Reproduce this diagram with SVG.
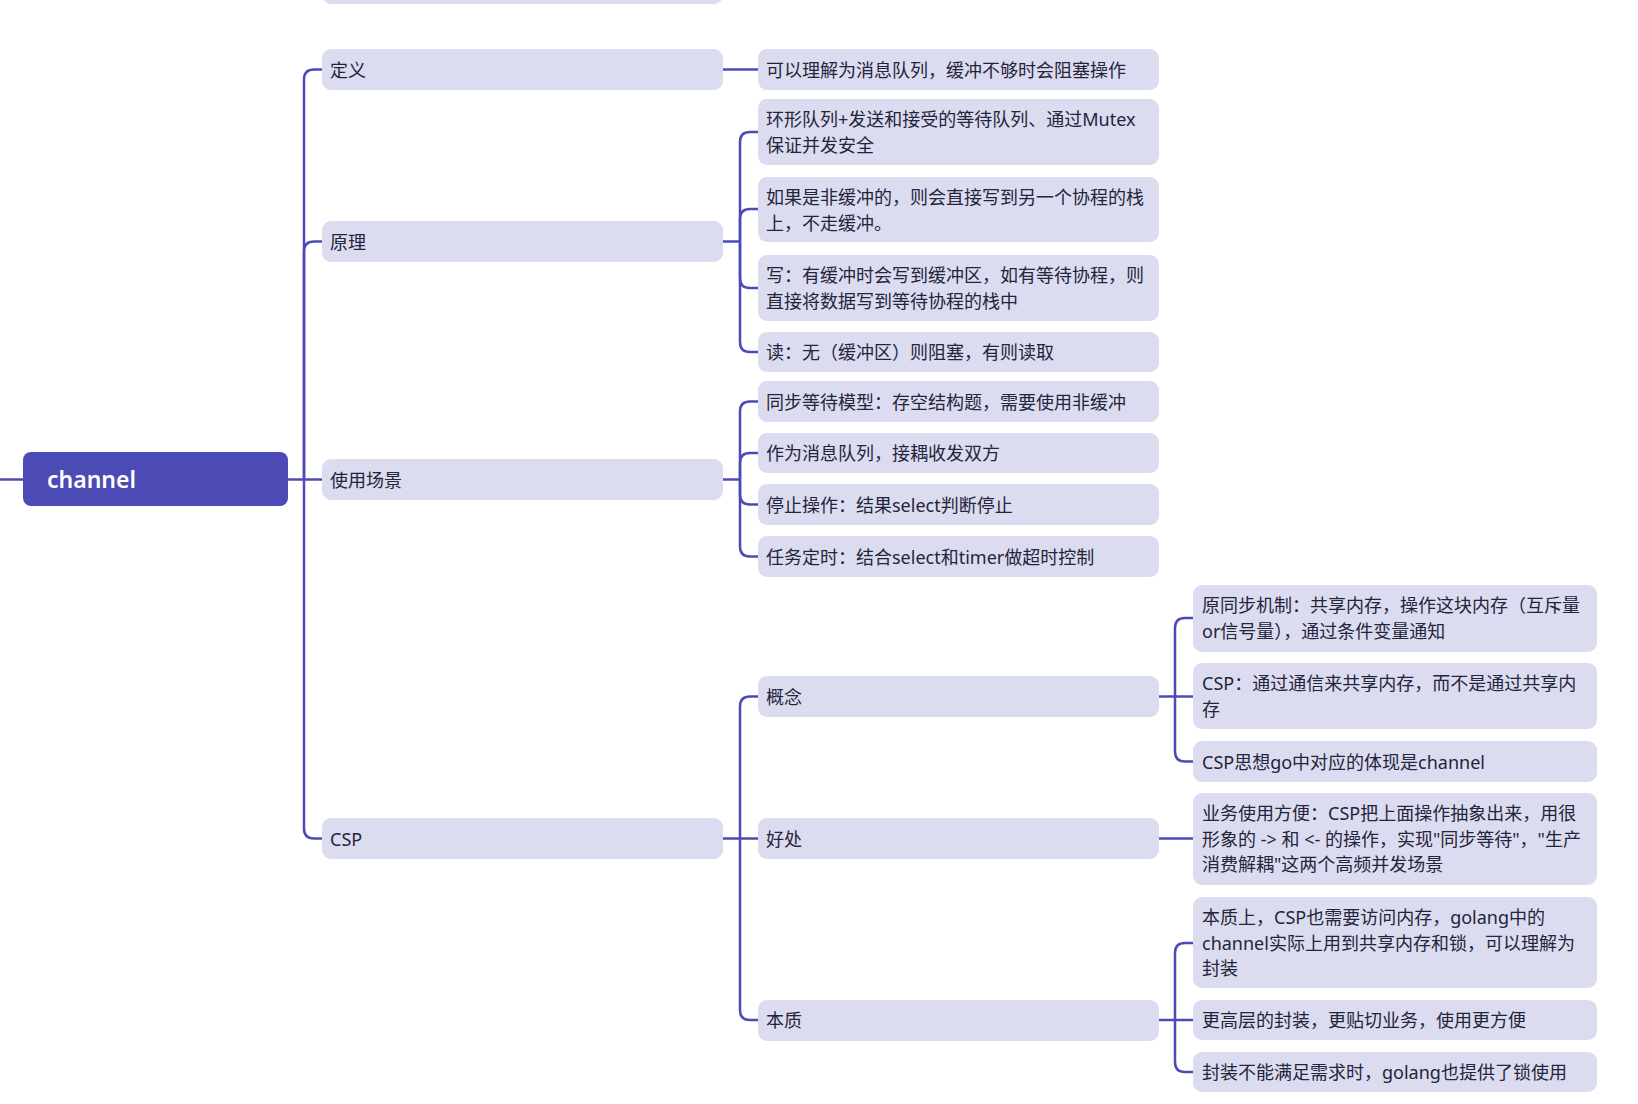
<svg xmlns="http://www.w3.org/2000/svg" width="1638" height="1104" viewBox="0 0 1638 1104">
<style>
.bx{fill:#dcdcf1;}
.root{fill:#4c4ab5;}
.t{font-family:"Noto Sans","Noto Sans CJK SC",sans-serif;font-size:18px;fill:#24243a;dominant-baseline:central;}
.rt{font-family:"Noto Sans","Noto Sans CJK SC",sans-serif;font-size:23px;font-weight:600;fill:#ffffff;dominant-baseline:central;}
.c{fill:none;stroke:#4c4ab5;stroke-width:2.5;}
</style>
<rect width="1638" height="1104" fill="#ffffff"/>
<g id="connectors">
<path class="c" d="M0,479.5 H23"/>
<path class="c" d="M288,479.5 H322"/>
<path class="c" d="M304,479.5 V79.5 Q304,69.5 314,69.5 H322"/>
<path class="c" d="M304,479.5 V251.5 Q304,241.5 314,241.5 H322"/>
<path class="c" d="M304,479.5 V828.5 Q304,838.5 314,838.5 H322"/>
<path class="c" d="M723,69.5 H758"/>
<path class="c" d="M723,241.5 H740"/>
<path class="c" d="M740,241.5 V142 Q740,132 750,132 H758"/>
<path class="c" d="M740,241.5 V219 Q740,209 750,209 H758"/>
<path class="c" d="M740,241.5 V278 Q740,288 750,288 H758"/>
<path class="c" d="M740,241.5 V342 Q740,352 750,352 H758"/>
<path class="c" d="M723,479.5 H740"/>
<path class="c" d="M740,479.5 V411.5 Q740,401.5 750,401.5 H758"/>
<path class="c" d="M740,479.5 V463 Q740,453 750,453 H758"/>
<path class="c" d="M740,479.5 V494.5 Q740,504.5 750,504.5 H758"/>
<path class="c" d="M740,479.5 V546.5 Q740,556.5 750,556.5 H758"/>
<path class="c" d="M723,838.5 H758"/>
<path class="c" d="M740,838.5 V706.5 Q740,696.5 750,696.5 H758"/>
<path class="c" d="M740,838.5 V1010 Q740,1020 750,1020 H758"/>
<path class="c" d="M1159,696.5 H1193"/>
<path class="c" d="M1175,696.5 V628 Q1175,618 1185,618 H1193"/>
<path class="c" d="M1175,696.5 V751.5 Q1175,761.5 1185,761.5 H1193"/>
<path class="c" d="M1159,838.5 H1193"/>
<path class="c" d="M1159,1020 H1193"/>
<path class="c" d="M1175,1020 V953 Q1175,943 1185,943 H1193"/>
<path class="c" d="M1175,1020 V1062 Q1175,1072 1185,1072 H1193"/>
</g>
<g id="n_top_partial"><rect class="bx" x="322" y="-40" width="401" height="44" rx="9"/></g>
<g id="n_root"><rect class="root" x="23" y="452" width="265" height="54" rx="8"/><text class="rt" x="47" y="479">channel</text></g>
<g id="n_dingyi"><rect class="bx" x="322" y="49" width="401" height="41" rx="9"/><text class="t" x="330" y="69.5">定义</text></g>
<g id="n_yuanli"><rect class="bx" x="322" y="221" width="401" height="41" rx="9"/><text class="t" x="330" y="241.5">原理</text></g>
<g id="n_changjing"><rect class="bx" x="322" y="459" width="401" height="41" rx="9"/><text class="t" x="330" y="479.5">使用场景</text></g>
<g id="n_csp"><rect class="bx" x="322" y="818" width="401" height="41" rx="9"/><text class="t" x="330" y="838.5">CSP</text></g>
<g id="n_d1"><rect class="bx" x="758" y="49" width="401" height="41" rx="9"/><text class="t" x="766" y="69.5">可以理解为消息队列，缓冲不够时会阻塞操作</text></g>
<g id="n_y1"><rect class="bx" x="758" y="99" width="401" height="66" rx="9"/><text class="t" x="766" y="119">环形队列+发送和接受的等待队列、通过Mutex</text><text class="t" x="766" y="145">保证并发安全</text></g>
<g id="n_y2"><rect class="bx" x="758" y="177" width="401" height="65" rx="9"/><text class="t" x="766" y="197">如果是非缓冲的，则会直接写到另一个协程的栈</text><text class="t" x="766" y="223">上，不走缓冲。</text></g>
<g id="n_y3"><rect class="bx" x="758" y="255" width="401" height="66" rx="9"/><text class="t" x="766" y="275">写：有缓冲时会写到缓冲区，如有等待协程，则</text><text class="t" x="766" y="301">直接将数据写到等待协程的栈中</text></g>
<g id="n_y4"><rect class="bx" x="758" y="332" width="401" height="40" rx="9"/><text class="t" x="766" y="352">读：无（缓冲区）则阻塞，有则读取</text></g>
<g id="n_c1"><rect class="bx" x="758" y="381" width="401" height="41" rx="9"/><text class="t" x="766" y="401.5">同步等待模型：存空结构题，需要使用非缓冲</text></g>
<g id="n_c2"><rect class="bx" x="758" y="433" width="401" height="40" rx="9"/><text class="t" x="766" y="453">作为消息队列，接耦收发双方</text></g>
<g id="n_c3"><rect class="bx" x="758" y="484" width="401" height="41" rx="9"/><text class="t" x="766" y="504.5">停止操作：结果select判断停止</text></g>
<g id="n_c4"><rect class="bx" x="758" y="536" width="401" height="41" rx="9"/><text class="t" x="766" y="556.5">任务定时：结合select和timer做超时控制</text></g>
<g id="n_gainian"><rect class="bx" x="758" y="676" width="401" height="41" rx="9"/><text class="t" x="766" y="696.5">概念</text></g>
<g id="n_haochu"><rect class="bx" x="758" y="818" width="401" height="41" rx="9"/><text class="t" x="766" y="838.5">好处</text></g>
<g id="n_benzhi"><rect class="bx" x="758" y="1000" width="401" height="41" rx="9"/><text class="t" x="766" y="1020">本质</text></g>
<g id="n_g1"><rect class="bx" x="1193" y="585" width="404" height="67" rx="9"/><text class="t" x="1202" y="605">原同步机制：共享内存，操作这块内存（互斥量</text><text class="t" x="1202" y="631">or信号量），通过条件变量通知</text></g>
<g id="n_g2"><rect class="bx" x="1193" y="663" width="404" height="66" rx="9"/><text class="t" x="1202" y="683">CSP：通过通信来共享内存，而不是通过共享内</text><text class="t" x="1202" y="709">存</text></g>
<g id="n_g3"><rect class="bx" x="1193" y="741" width="404" height="41" rx="9"/><text class="t" x="1202" y="761.5">CSP思想go中对应的体现是channel</text></g>
<g id="n_h1"><rect class="bx" x="1193" y="793" width="404" height="92" rx="9"/><text class="t" x="1202" y="813">业务使用方便：CSP把上面操作抽象出来，用很</text><text class="t" x="1202" y="839">形象的 -&gt; 和 &lt;- 的操作，实现"同步等待"，"生产</text><text class="t" x="1202" y="864">消费解耦"这两个高频并发场景</text></g>
<g id="n_b1"><rect class="bx" x="1193" y="897" width="404" height="91" rx="9"/><text class="t" x="1202" y="917">本质上，CSP也需要访问内存，golang中的</text><text class="t" x="1202" y="943">channel实际上用到共享内存和锁，可以理解为</text><text class="t" x="1202" y="968">封装</text></g>
<g id="n_b2"><rect class="bx" x="1193" y="1000" width="404" height="40" rx="9"/><text class="t" x="1202" y="1020">更高层的封装，更贴切业务，使用更方便</text></g>
<g id="n_b3"><rect class="bx" x="1193" y="1052" width="404" height="40" rx="9"/><text class="t" x="1202" y="1072">封装不能满足需求时，golang也提供了锁使用</text></g>
</svg>
